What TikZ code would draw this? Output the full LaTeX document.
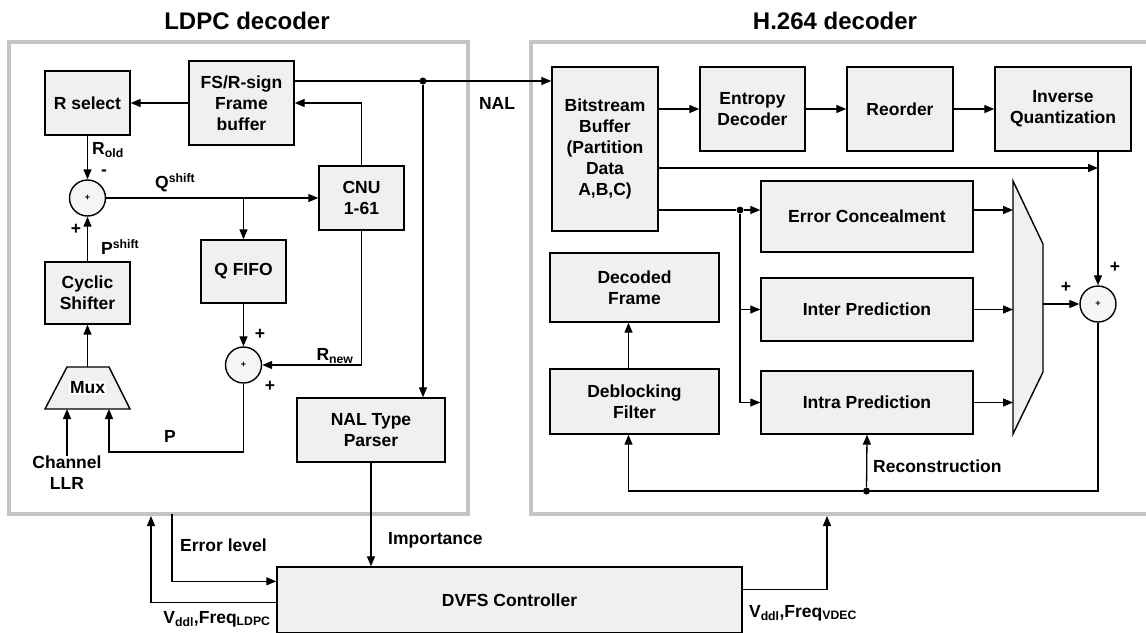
\documentclass[tikz,border=0pt]{standalone}
\usepackage{fontspec}
\setmainfont{Liberation Sans}
\usetikzlibrary{arrows.meta}

\begin{document}
\begin{tikzpicture}[x=1pt,y=-1pt,
    font=\bfseries\fontsize{17.5}{21}\selectfont,
    blk/.style={draw,line width=1.4pt,fill=black!6,align=center,inner sep=0pt},
    frm/.style={draw=black!23,line width=4pt},
    sumc/.style={draw,line width=1.4pt,fill=black!4,circle,minimum size=36pt,inner sep=0pt,font=\bfseries\fontsize{9}{9}\selectfont},
    lab/.style={inner sep=0pt,align=center},
    ln/.style={line width=1.3pt},
    arr/.style={ln,-{Triangle[length=10pt,width=8pt]}},
    dot/.style={circle,fill,inner sep=0pt,minimum size=7pt}]
    \useasboundingbox (0,0) rectangle (1146,632);
    \clip (0,0) rectangle (1146,632);

    % LDPC decoder
    \draw[frm] (9,42) rectangle (468,514);
    \node (tldpc) at (247,21) {\fontsize{24}{28}\selectfont LDPC decoder};
    \node[blk,minimum width=85,minimum height=64] (rsel) at (87.5,103) {R select};
    \node[blk,minimum width=105,minimum height=84] (fsb) at (241.5,103) {FS/R-sign\\Frame\\buffer};
    \node[blk,minimum width=85,minimum height=64] (cnu) at (361.5,198) {CNU\\1-61};
    \node[sumc] (s1) at (87.5,198) {+};
    \node[blk,minimum width=85,minimum height=63] (qfifo) at (243.5,271.5) {Q FIFO};
    \node[blk,minimum width=85,minimum height=62] (cyc) at (87.5,293) {Cyclic\\Shifter};
    \node[sumc] (s2) at (243.5,365) {+};
    \draw[line width=1.4pt,fill=black!6] (45,409) -- (67,367) -- (109,367) -- (130,409) -- cycle;
    \node[fill=white,inner sep=1pt] (mux) at (87.5,388) {Mux};
    \coordinate (muxt) at (87.5,367);
    \coordinate (muxb) at (67,409);
    \coordinate (pin) at (109,409);
    \coordinate (pturn) at (109,452);
    \node[lab] (llr) at (67,473) {Channel\\LLR};
    \node[blk,minimum width=148,minimum height=64] (nalp) at (371,430) {NAL Type\\Parser};
    \node[dot] (d1) at (423,81) {};

    % LDPC labels
    \node[lab] (rold) at (108,150) {R\textsubscript{old}};
    \node[lab] (m1) at (104,173) {-};
    \node[lab,anchor=west] (qsh) at (155,183) {Q\textsuperscript{shift}};
    \node[lab] (p1) at (76,229) {+};
    \node[lab,anchor=west] (psh) at (101,247) {P\textsuperscript{shift}};
    \node[lab] (rnew) at (335,356) {R\textsubscript{new}};
    \node[lab] (p2) at (260,334) {+};
    \node[lab] (p3) at (270,386) {+};
    \node[lab] (plab) at (170,436) {P};

    % LDPC connections
    \draw[arr] (fsb.west) -- (rsel.east);
    \draw[arr] (cnu.north) |- (fsb.east);
    \draw[arr] (rsel.south) -- (s1.north);
    \draw[arr] (cyc.north) -- (s1.south);
    \draw[arr] (muxt) -- (cyc.south);
    \draw[arr] (s1.east) -- (cnu.west);
    \draw[arr] (qfifo.north |- s1.east) -- (qfifo.north);
    \draw[arr] (qfifo.south) -- (s2.north);
    \draw[arr] (cnu.south) |- (s2.east);
    \draw[arr] (s2.south) |- (pturn) -- (pin);
    \draw[arr] (llr.north) -- (muxb);

    % H.264 decoder
    \draw[frm] (531,42) rectangle (1160,514);
    \node (th264) at (835,21) {\fontsize{24}{28}\selectfont H.264 decoder};
    \node[blk,minimum width=106,minimum height=164] (bsb) at (605,149) {Bitstream\\Buffer\\(Partition\\Data\\A,B,C)};
    \node[blk,minimum width=105,minimum height=84] (ent) at (752.5,109) {Entropy\\Decoder};
    \node[blk,minimum width=106,minimum height=84] (reo) at (900,109) {Reorder};
    \node[blk,minimum width=136,minimum height=84] (iq) at (1063,109) {Inverse\\Quantization};
    \node[blk,minimum width=212,minimum height=71] (ec) at (867,216.5) {Error Concealment};
    \node[blk,minimum width=212,minimum height=63] (inter) at (867,309.5) {Inter Prediction};
    \node[blk,minimum width=212,minimum height=63] (intra) at (867,402.5) {Intra Prediction};
    \node[blk,minimum width=169,minimum height=69] (dec) at (634.5,287.5) {Decoded\\Frame};
    \node[blk,minimum width=169,minimum height=65] (dbf) at (634.5,401.5) {Deblocking\\Filter};
    \draw[line width=1.4pt,fill=black!6] (1013,181) -- (1043,244) -- (1043,372) -- (1013,434) -- cycle;
    \coordinate (vmw) at (1013,304);
    \coordinate (vme) at (1043,304);
    \node[sumc] (s3) at (1098,304) {+};
    \coordinate (bq) at (658,168);
    \coordinate (be) at (658,210);
    \node[dot] (d2) at (740,210) {};
    \node[dot] (d3) at (866.5,491) {};

    % H.264 labels
    \node[lab] (nal) at (497,103) {NAL};
    \node[lab] (p4) at (1115,267) {+};
    \node[lab] (p5) at (1066,287) {+};
    \node[lab,anchor=west] (recon) at (873,466) {Reconstruction};

    % H.264 connections
    \draw[arr] (fsb.east |- d1) -- (bsb.west |- d1);
    \draw[arr] (d1) -- (nalp.north -| d1);
    \draw[arr] (bsb.east |- ent.west) -- (ent.west);
    \draw[arr] (ent.east) -- (reo.west);
    \draw[arr] (reo.east) -- (iq.west);
    \draw[arr] (bq) -- (bq -| s3);
    \draw[arr] (iq.south -| s3) -- (s3.north);
    \draw[ln] (be) -- (d2);
    \draw[arr] (d2) -- (be -| ec.west);
    \draw[ln] (d2) -- (d2 |- intra.west);
    \draw[arr] (d2 |- inter.west) -- (inter.west);
    \draw[arr] (d2 |- intra.west) -- (intra.west);
    \draw[arr] (be -| ec.east) -- (be -| vmw);
    \draw[arr] (inter.east) -- (inter.east -| vmw);
    \draw[arr] (intra.east) -- (intra.east -| vmw);
    \draw[arr] (vme) -- (s3.west);
    \draw[arr] (s3.south) |- (d3) -| ([xshift=-6pt]dbf.south);
    \draw[arr] (d3) -- (intra.south);
    \draw[arr] ([xshift=-6pt]dbf.north) -- ([xshift=-6pt]dec.south);

    % DVFS controller
    \node[blk,minimum width=465,minimum height=66] (dvfs) at (509.5,600) {DVFS Controller};
    \coordinate (lin) at (151,516);
    \coordinate (vin) at (827,516);
    \coordinate (eout) at (172,514);
    \draw[arr] (nalp.south) -- (nalp.south |- dvfs.north);
    \draw[arr] (eout) |- ([yshift=-15pt]dvfs.north west);
    \draw[arr] ([yshift=-36pt]dvfs.north west) -| (lin);
    \draw[arr] ([yshift=-23pt]dvfs.north east) -| (vin);
    \node[lab,anchor=west] (imp) at (388,540) {Importance};
    \node[lab,anchor=west] (err) at (180,545) {Error level};
    \node[lab] (vldpc) at (217,619) {V\textsubscript{ddl},Freq\textsubscript{LDPC}};
    \node[lab] (vvdec) at (803,613) {V\textsubscript{ddl},Freq\textsubscript{VDEC}};
\end{tikzpicture}
\end{document}
